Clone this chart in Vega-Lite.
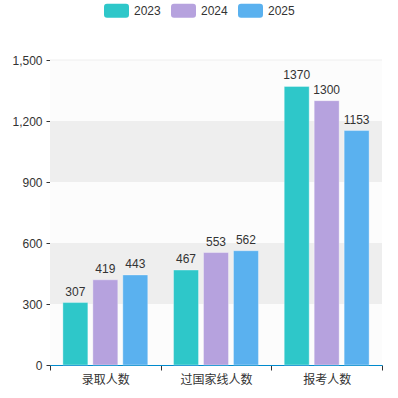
{
  "$schema": "https://vega.github.io/schema/vega-lite/v6.json",
  "width": 332,
  "height": 305,
  "autosize": {"type": "none"},
  "padding": {"left": 50, "top": 60, "right": 16, "bottom": 33},
  "background": "#ffffff",
  "config": {
    "view": {"stroke": null},
    "font": "Liberation Sans, Noto Sans CJK SC, sans-serif"
  },
  "datasets": {
    "bars": [
      {"cat": "录取人数", "year": "2023", "value": 307},
      {"cat": "录取人数", "year": "2024", "value": 419},
      {"cat": "录取人数", "year": "2025", "value": 443},
      {"cat": "过国家线人数", "year": "2023", "value": 467},
      {"cat": "过国家线人数", "year": "2024", "value": 553},
      {"cat": "过国家线人数", "year": "2025", "value": 562},
      {"cat": "报考人数", "year": "2023", "value": 1370},
      {"cat": "报考人数", "year": "2024", "value": 1300},
      {"cat": "报考人数", "year": "2025", "value": 1153}
    ],
    "bands": [
      {"lo": 0, "hi": 300, "shade": "a"},
      {"lo": 300, "hi": 600, "shade": "b"},
      {"lo": 600, "hi": 900, "shade": "a"},
      {"lo": 900, "hi": 1200, "shade": "b"},
      {"lo": 1200, "hi": 1500, "shade": "a"}
    ]
  },
  "layer": [
    {
      "data": {"name": "bands"},
      "mark": {"type": "rect", "x": 0, "x2": {"expr": "width"}},
      "encoding": {
        "y": {
          "field": "lo", "type": "quantitative",
          "scale": {"domain": [0, 1500], "nice": false, "zero": true},
          "axis": {
            "title": null, "values": [0, 300, 600, 900, 1200, 1500], "format": ",.0f",
            "grid": false, "domainColor": "#008acd", "tickColor": "#333333",
            "tickSize": 4, "labelColor": "#333333", "labelFontSize": 12, "labelPadding": 4
          }
        },
        "y2": {"field": "hi"},
        "color": {
          "field": "shade", "type": "nominal",
          "scale": {"domain": ["a", "b"], "range": ["#fcfcfc", "#eeeeee"]},
          "legend": null
        }
      }
    },
    {
      "data": {"values": [{"v": 1500}]},
      "mark": {"type": "rule", "color": "#eeeeee", "x": 0, "x2": {"expr": "width"}},
      "encoding": {"y": {"field": "v", "type": "quantitative"}}
    },
    {
      "data": {"name": "bars"},
      "layer": [
        {
          "mark": {"type": "bar", "stroke": "#ffffff", "strokeOpacity": 0.35, "strokeWidth": 1},
          "encoding": {
            "x": {
              "field": "cat", "type": "nominal", "sort": null,
              "scale": {"paddingInner": 0, "paddingOuter": 0},
              "axis": {
                "title": null, "labelAngle": 0, "tickBand": "extent",
                "domainColor": "#008acd", "domainWidth": 1,
                "tickColor": "#333333", "tickSize": 5,
                "labelColor": "#333333", "labelFontSize": 12, "labelPadding": 4,
                "labelFont": "Noto Sans CJK SC"
              }
            },
            "xOffset": {
              "field": "year", "type": "nominal",
              "scale": {"paddingInner": 0.167, "paddingOuter": 0.43}
            },
            "y": {"field": "value", "type": "quantitative"},
            "color": {
              "field": "year", "type": "nominal",
              "scale": {"domain": ["2023", "2024", "2025"], "range": ["#2ec7c9", "#b6a2de", "#5ab1ef"]},
              "legend": {
                "title": null, "orient": "none", "direction": "horizontal",
                "legendX": 54, "legendY": -62,
                "symbolType": "M-0.76,-0.56 L0.76,-0.56 Q1,-0.56 1,-0.32 L1,0.32 Q1,0.56 0.76,0.56 L-0.76,0.56 Q-1,0.56 -1,0.32 L-1,-0.32 Q-1,-0.56 -0.76,-0.56 Z",
                "symbolSize": 625, "symbolStrokeWidth": 0, "symbolOpacity": 1,
                "labelFontSize": 12, "labelColor": "#333333", "labelOffset": 5,
                "columnPadding": 10
              }
            }
          }
        },
        {
          "mark": {"type": "text", "baseline": "bottom", "dy": -4, "fontSize": 12, "color": "#333333"},
          "encoding": {
            "x": {"field": "cat", "type": "nominal", "sort": null},
            "xOffset": {"field": "year", "type": "nominal"},
            "y": {"field": "value", "type": "quantitative"},
            "text": {"field": "value", "type": "quantitative"}
          }
        }
      ]
    }
  ],
  "resolve": {"scale": {"color": "independent"}}
}
